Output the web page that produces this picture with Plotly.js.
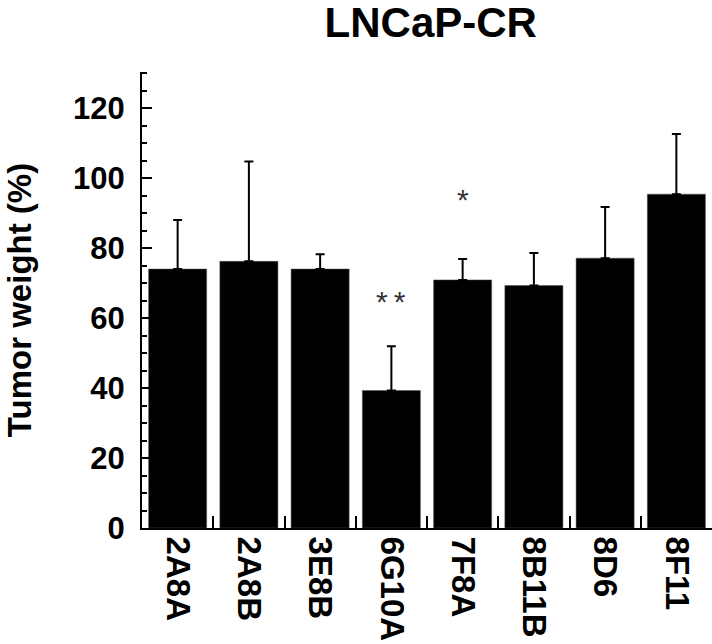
<!DOCTYPE html>
<html>
<head>
<meta charset="utf-8">
<script src="https://cdn.plot.ly/plotly-3.0.1.min.js"></script>
<style>html,body{margin:0;padding:0;background:#fff;}#chart{width:712px;height:644px;}</style>
</head>
<body>
<div id="chart"></div>
<script>
const categories = ['2A8A', '2A8B', '3E8B', '6G10A', '7F8A', '8B11B', '8D6', '8F11'];
const tumorWeight = [74.0, 76.2, 74.0, 39.3, 70.9, 69.3, 77.1, 95.4];
const errorUpper = [14.0, 28.5, 4.2, 12.6, 6.0, 9.3, 14.6, 17.2];
const sigLabels = ['', '', '', '*&#8201;*', '*', '', '', ''];
const sigY = [0, 0, 0, 64.6, 93.8, 0, 0, 0];
const yTickVals = [0, 20, 40, 60, 80, 100, 120];

const FONT = 'Liberation Sans, Arial, Helvetica, sans-serif';

const trace = {
  type: 'bar',
  x: categories,
  y: tumorWeight,
  marker: {color: '#000000', line: {color: '#555555', width: 0.5}},
  error_y: {
    type: 'data',
    symmetric: false,
    array: errorUpper,
    arrayminus: categories.map(() => 0),
    color: '#000000',
    thickness: 2,
    width: 4.5
  },
  hoverinfo: 'skip'
};

const annotations = [];
categories.forEach((c, i) => {
  if (sigLabels[i]) {
    annotations.push({
      x: c, y: sigY[i], xref: 'x', yref: 'y',
      text: sigLabels[i], showarrow: false,
      font: {family: FONT, size: 30, color: '#333333'},
      xanchor: 'center', yanchor: 'middle'
    });
  }
});

const layout = {
  width: 712, height: 644,
  margin: {l: 142, r: 0, t: 72, b: 116},
  paper_bgcolor: '#ffffff', plot_bgcolor: '#ffffff',
  showlegend: false,
  bargap: 0.185,
  title: {
    text: '<b>LNCaP-CR</b>',
    font: {family: FONT, size: 42, color: '#000000'},
    xref: 'container', x: 0.605, xanchor: 'center',
    yref: 'container', y: 0.966, yanchor: 'middle'
  },
  xaxis: {
    type: 'category',
    range: [-0.5, 7.5],
    showline: true, linecolor: '#000000', linewidth: 2,
    ticks: 'inside', tickson: 'boundaries', ticklen: 12, tickwidth: 2, tickcolor: '#000000',
    tickangle: 90,
    tickfont: {family: FONT, size: 33, color: '#000000', weight: 'bold'},
    showgrid: false, zeroline: false, fixedrange: true
  },
  yaxis: {
    range: [0, 130.3],
    showline: true, linecolor: '#000000', linewidth: 2,
    tickmode: 'array', tickvals: yTickVals, ticktext: yTickVals.map(String),
    ticks: 'inside', ticklen: 10, tickwidth: 2, tickcolor: '#000000',
    minor: {dtick: 5, tick0: 0, ticks: 'inside', ticklen: 5, tickwidth: 2, tickcolor: '#000000', showgrid: false},
    ticklabelstandoff: 9,
    tickfont: {family: FONT, size: 31, color: '#000000', weight: 'bold'},
    showgrid: false, zeroline: false, fixedrange: true,
    title: {
      text: '<b>Tumor weight (%)</b>',
      font: {family: FONT, size: 33, color: '#000000'},
      standoff: 32
    }
  },
  annotations: annotations
};

Plotly.newPlot('chart', [trace], layout, {displayModeBar: false, staticPlot: true});
</script>
</body>
</html>
